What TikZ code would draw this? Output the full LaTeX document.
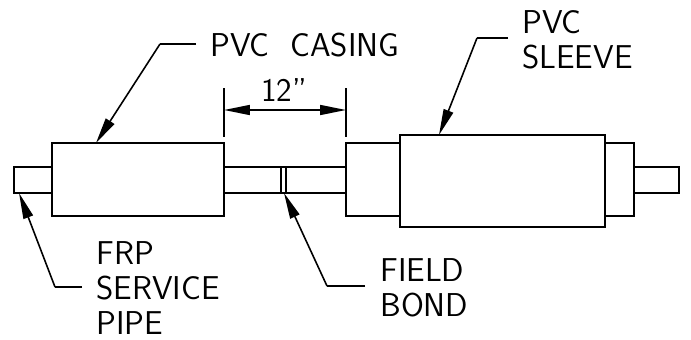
\documentclass[tikz,border=0pt]{standalone}
\usetikzlibrary{arrows.meta}
\tikzset{
  pipe/.style={line width=0.9pt},
  lead/.style={line width=0.9pt,-{Triangle[length=0.52cm,width=0.2cm]}},
  labl/.style={anchor=north west,inner sep=0pt,align=left,font=\sffamily\fontsize{18.8}{19.9}\selectfont},
}
\begin{document}
\begin{tikzpicture}
        \def\x{0.02}
        \def\y{-0.02}
        \useasboundingbox (0,0) rectangle (691*\x, 339*\y);
        \draw [pipe] (14*\x, 167*\y) rectangle (52*\x, 193*\y);
        \draw [pipe] (52*\x, 143*\y) rectangle (224*\x, 216*\y);
        \draw [pipe] (224*\x, 167*\y) -- (346*\x, 167*\y);
        \draw [pipe] (224*\x, 193*\y) -- (346*\x, 193*\y);
        \draw [pipe] (281*\x, 167*\y) -- (281*\x, 193*\y);
        \draw [pipe] (286*\x, 167*\y) -- (286*\x, 193*\y);
        \draw [pipe] (346*\x, 143*\y) rectangle (400*\x, 216*\y);
        \draw [pipe] (400*\x, 135*\y) rectangle (605*\x, 227*\y);
        \draw [pipe] (605*\x, 143*\y) rectangle (634*\x, 216*\y);
        \draw [pipe] (634*\x, 167*\y) rectangle (679*\x, 193*\y);
        \node [labl] (casing) at (210*\x, 33*\y) {PVC\ \ CASING};
        \node [labl] (sleeve) at (522*\x, 10*\y) {PVC\\SLEEVE};
        \node [labl] (frp) at (96*\x, 241*\y) {FRP\\SERVICE\\PIPE};
        \node [labl] (bond) at (380*\x, 258*\y) {FIELD\\BOND};
        \node [labl,anchor=south] (dim) at (284*\x, 102*\y) {12”};
        \coordinate (A0_0) at (196*\x, 44*\y);
        \coordinate (A0_1) at (160*\x, 44*\y);
        \coordinate (A0_2) at (96*\x, 143*\y);
        \coordinate (A1_0) at (508*\x, 38*\y);
        \coordinate (A1_1) at (477*\x, 38*\y);
        \coordinate (A1_2) at (439*\x, 135*\y);
        \coordinate (A2_0) at (82*\x, 287*\y);
        \coordinate (A2_1) at (55*\x, 287*\y);
        \coordinate (A2_2) at (19*\x, 193*\y);
        \coordinate (A3_0) at (365*\x, 286*\y);
        \coordinate (A3_1) at (327*\x, 286*\y);
        \coordinate (A3_2) at (284*\x, 193*\y);
        \coordinate (B0_0) at (224*\x, 88*\y);
        \coordinate (B0_1) at (224*\x, 137*\y);
        \coordinate (B1_0) at (346*\x, 88*\y);
        \coordinate (B1_1) at (346*\x, 137*\y);
        \coordinate (B2_0) at (224*\x, 110*\y);
        \coordinate (B2_1) at (346*\x, 110*\y);
        \path (A0_0) edge [pipe] (A0_1);
        \path (A0_1) edge [lead] (A0_2);
        \path (A1_0) edge [pipe] (A1_1);
        \path (A1_1) edge [lead] (A1_2);
        \path (A2_0) edge [pipe] (A2_1);
        \path (A2_1) edge [lead] (A2_2);
        \path (A3_0) edge [pipe] (A3_1);
        \path (A3_1) edge [lead] (A3_2);
        \path (B0_0) edge [pipe] (B0_1);
        \path (B1_0) edge [pipe] (B1_1);
        \path (B2_0) edge [pipe,{Triangle[length=0.52cm,width=0.2cm]}-{Triangle[length=0.52cm,width=0.2cm]}] (B2_1);
      \end{tikzpicture}
\end{document}
